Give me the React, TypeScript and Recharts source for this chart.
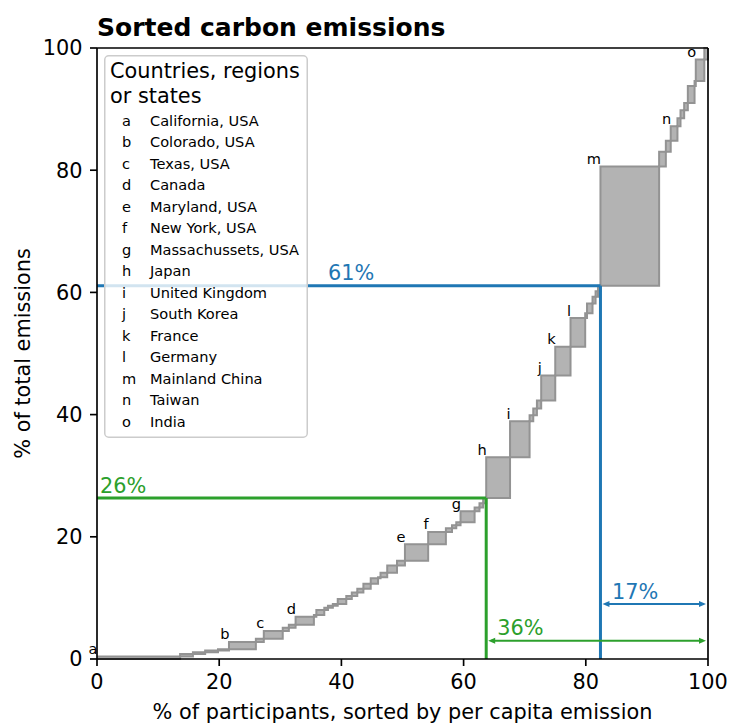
import React from 'react';
import {
  ComposedChart,
  Area,
  XAxis,
  YAxis,
  ReferenceLine,
  ReferenceDot,
  Legend,
  LabelList,
  Label,
} from 'recharts';

// Cumulative share of participants (%) at the right edge of each entity, sorted by per-capita emission
const participantCum = [
  13.6, 15.7, 17.7, 19.8, 21.6, 26.0, 27.3, 30.4, 31.4, 32.5,
  35.5, 35.9, 37.2, 37.8, 38.6, 39.4, 40.8, 41.7, 42.6, 43.6,
  44.8, 46.0, 46.4, 47.5, 49.1, 50.4, 54.2, 57.1, 58.1, 58.8,
  59.5, 61.8, 62.6, 63.2, 63.7, 67.6, 70.8, 71.4, 72.0, 72.7,
  75.0, 77.5, 79.9, 80.2, 81.1, 81.6, 82.0, 82.4, 92.0, 93.1,
  93.9, 95.0, 95.5, 96.1, 96.7, 97.8, 98.0, 99.4, 100,
];

// Cumulative share of total emissions (%) at the top edge of each entity
const emissionCum = [
  0.4, 0.8, 1.1, 1.4, 1.6, 2.8, 3.3, 4.6, 5.1, 5.6,
  6.9, 7.2, 8.0, 8.4, 8.7, 9.0, 9.8, 10.3, 10.9, 11.5,
  12.3, 13.2, 13.4, 14.1, 15.3, 16.1, 18.8, 20.8, 21.4, 21.9,
  22.4, 24.2, 24.8, 25.5, 26.35, 33.0, 38.9, 39.9, 41.0, 42.3,
  46.4, 51.1, 55.8, 56.6, 58.2, 59.3, 60.2, 61.1, 80.6, 83.0,
  84.8, 87.2, 88.5, 89.8, 91.0, 93.8, 94.6, 98.1, 100,
];

// Letter shown beside each entity ('' = unlabeled)
const entityLetters = [
  'a', '', '', '', '', 'b', '', 'c', '', '',
  'd', '', '', '', '', '', '', '', '', '',
  '', '', '', '', '', '', 'e', 'f', '', '',
  '', 'g', '', '', '', 'h', 'i', '', '', '',
  'j', 'k', 'l', '', '', '', '', '', 'm', '',
  '', 'n', '', '', '', '', '', 'o', '',
];

const legendTitle = ['Countries, regions', 'or states'];
const legendLetters = ['a', 'b', 'c', 'd', 'e', 'f', 'g', 'h', 'i', 'j', 'k', 'l', 'm', 'n', 'o'];
const legendNames = [
  'California, USA',
  'Colorado, USA',
  'Texas, USA',
  'Canada',
  'Maryland, USA',
  'New York, USA',
  'Massachussets, USA',
  'Japan',
  'United Kingdom',
  'South Korea',
  'France',
  'Germany',
  'Mainland China',
  'Taiwan',
  'India',
];

const xTicks = [0, 20, 40, 60, 80, 100];
const yTicks = [0, 20, 40, 60, 80, 100];

const titleText = 'Sorted carbon emissions';
const xLabel = '% of participants, sorted by per capita emission';
const yLabel = '% of total emissions';
const pctLabels = ['26%', '36%', '61%', '17%'];

const FONT = "'DejaVu Sans', sans-serif";
const BASE = 20.83;
const SMALL = 14.58;
const BLUE = '#1f77b4';
const GREEN = '#2ca02c';

// table for the range area: each entity starts at the previous cumulative point
const rows: { x: number; range: [number, number]; label: string }[] = participantCum.map((x1, i) => ({
  x: i === 0 ? 0 : participantCum[i - 1],
  range: [i === 0 ? 0 : emissionCum[i - 1], emissionCum[i]],
  label: entityLetters[i],
}));
rows.push({ x: 100, range: [100, 100], label: '' });

const idxH = entityLetters.indexOf('h');
const idxM = entityLetters.indexOf('m');
const greenX = participantCum[idxH - 1];
const greenY = emissionCum[idxH - 1];
const blueX = participantCum[idxM - 1];
const blueY = emissionCum[idxM - 1];

const renderLetter = (p: any) => {
  if (!p || !p.value) return null;
  const vb = p.viewBox || {};
  const x = p.x ?? vb.x;
  const y = p.y ?? vb.y;
  return (
    <text x={x + 0.5} y={y - 2.5} textAnchor="end" fontSize={SMALL} fontFamily={FONT} fill="#000">
      {p.value}
    </text>
  );
};

const arrowShape = (color: string) => (p: any) => {
  const { x1, y1, x2 } = p;
  const a = Math.min(x1, x2) + 2;
  const b = Math.max(x1, x2) - 2;
  const y = y1;
  const hl = 7;
  const hw = 3;
  return (
    <g>
      <line x1={a + 3} y1={y} x2={b - 3} y2={y} stroke={color} strokeWidth={2} />
      <polygon points={`${a},${y} ${a + hl},${y - hw} ${a + hl},${y + hw}`} fill={color} />
      <polygon points={`${b},${y} ${b - hl},${y - hw} ${b - hl},${y + hw}`} fill={color} />
    </g>
  );
};

const textShape = (txt: string, color: string) => (p: any) => (
  <text x={p.cx} y={p.cy - 5.5} fill={color} fontSize={BASE} fontFamily={FONT}>
    {txt}
  </text>
);

const LegendBox = () => (
  <svg width={204} height={383} style={{ display: 'block' }}>
    <rect x={0.75} y={0.75} width={202.5} height={381.5} rx={4} ry={4} fill="#ffffff" fillOpacity={0.8} stroke="#cccccc" strokeWidth={1.5} />
    {legendTitle.map((t, i) => (
      <text key={t} x={6} y={23 + i * 24.7} fontSize={BASE} fontFamily={FONT} fill="#000">
        {t}
      </text>
    ))}
    {legendLetters.map((l, i) => (
      <g key={l}>
        <text x={18} y={70.6 + i * 21.5} fontSize={SMALL} fontFamily={FONT} fill="#000">
          {l}
        </text>
        <text x={46} y={70.6 + i * 21.5} fontSize={SMALL} fontFamily={FONT} fill="#000">
          {legendNames[i]}
        </text>
      </g>
    ))}
  </svg>
);

export default function App() {
  const tickStyle = { fontSize: BASE, fill: '#000', fontFamily: FONT };
  return (
    <div style={{ position: 'absolute', left: 0, top: 0, width: 729, height: 724, background: '#fff', fontFamily: FONT }}>
      <ComposedChart width={729} height={724} data={rows} margin={{ top: 48, right: 21, left: 0, bottom: 0 }}>
        <XAxis
          dataKey="x"
          type="number"
          domain={[0, 100]}
          ticks={xTicks}
          interval={0}
          height={65}
          tickSize={7}
          tickMargin={8}
          tick={tickStyle}
          axisLine={{ stroke: '#000', strokeWidth: 1.67 }}
          tickLine={{ stroke: '#000', strokeWidth: 1.67 }}
        >
          <Label
            content={(p: any) => {
              const vb = p.viewBox;
              return (
                <text x={vb.x + vb.width / 2} y={vb.y + vb.height - 5.5} textAnchor="middle" fontSize={BASE} fontFamily={FONT} fill="#000">
                  {xLabel}
                </text>
              );
            }}
          />
        </XAxis>
        <YAxis
          type="number"
          domain={[0, 100]}
          ticks={yTicks}
          interval={0}
          width={97}
          tickSize={7}
          tickMargin={7.5}
          tick={tickStyle}
          axisLine={{ stroke: '#000', strokeWidth: 1.67 }}
          tickLine={{ stroke: '#000', strokeWidth: 1.67 }}
        >
          <Label
            content={(p: any) => {
              const vb = p.viewBox;
              const cx = vb.x + 30;
              const cy = vb.y + vb.height / 2;
              return (
                <text x={cx} y={cy} transform={`rotate(-90, ${cx}, ${cy})`} textAnchor="middle" fontSize={BASE} fontFamily={FONT} fill="#000">
                  {yLabel}
                </text>
              );
            }}
          />
        </YAxis>
        <Area
          type="stepAfter"
          dataKey="range"
          fill="#b3b3b3"
          fillOpacity={1}
          stroke="#939393"
          strokeWidth={2}
          dot={false}
          activeDot={false}
          isAnimationActive={false}
        >
          <LabelList dataKey="label" content={renderLetter} />
        </Area>
        <ReferenceLine segment={[{ x: 0, y: greenY }, { x: greenX, y: greenY }]} stroke={GREEN} strokeWidth={3} ifOverflow="visible" />
        <ReferenceLine segment={[{ x: greenX, y: 0 }, { x: greenX, y: greenY }]} stroke={GREEN} strokeWidth={3} ifOverflow="visible" />
        <ReferenceLine segment={[{ x: 0, y: blueY }, { x: blueX, y: blueY }]} stroke={BLUE} strokeWidth={3} ifOverflow="visible" />
        <ReferenceLine segment={[{ x: blueX, y: 0 }, { x: blueX, y: blueY }]} stroke={BLUE} strokeWidth={3} ifOverflow="visible" />
        <ReferenceLine segment={[{ x: greenX, y: 3.0 }, { x: 100, y: 3.0 }]} ifOverflow="visible" shape={arrowShape(GREEN)} />
        <ReferenceLine segment={[{ x: blueX, y: 9.0 }, { x: 100, y: 9.0 }]} ifOverflow="visible" shape={arrowShape(BLUE)} />
        <ReferenceLine y={100} stroke="#000" strokeWidth={1.67} ifOverflow="visible" />
        <ReferenceLine x={100} stroke="#000" strokeWidth={1.67} ifOverflow="visible" />
        <ReferenceDot x={0.5} y={greenY} r={0} ifOverflow="visible" shape={textShape(pctLabels[0], GREEN)} />
        <ReferenceDot x={65.5} y={3.0} r={0} ifOverflow="visible" shape={textShape(pctLabels[1], GREEN)} />
        <ReferenceDot x={37.8} y={blueY} r={0} ifOverflow="visible" shape={textShape(pctLabels[2], BLUE)} />
        <ReferenceDot x={84.3} y={9.0} r={0} ifOverflow="visible" shape={textShape(pctLabels[3], BLUE)} />
        <Legend
          layout="vertical"
          align="center"
          verticalAlign="middle"
          wrapperStyle={{ position: 'absolute', left: 104, top: 55, width: 204, height: 383 }}
          content={() => <LegendBox />}
        />
      </ComposedChart>
      <svg width={729} height={46} style={{ position: 'absolute', left: 0, top: 0, pointerEvents: 'none' }}>
        <text x={97} y={35.5} fontSize={25} fontWeight="bold" fontFamily={FONT} fill="#000">
          {titleText}
        </text>
      </svg>
    </div>
  );
}
